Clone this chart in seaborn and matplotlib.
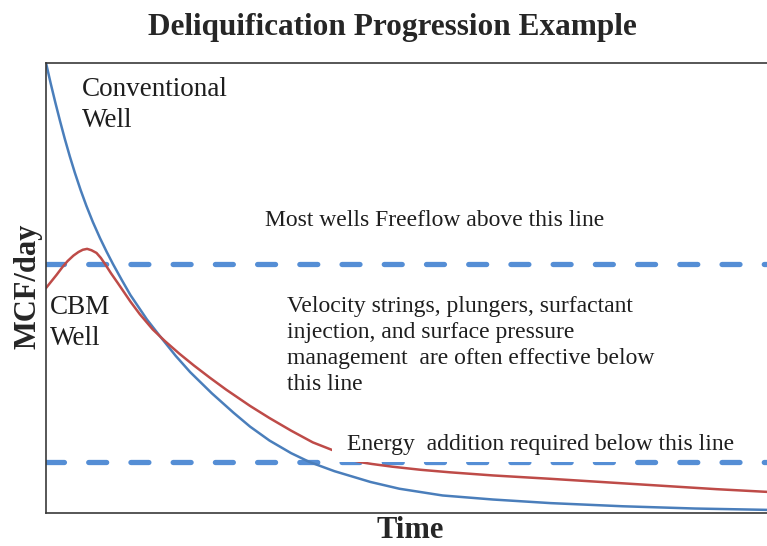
import pandas as pd
import seaborn as sns
import matplotlib.pyplot as plt
from matplotlib.patches import Rectangle

# Conceptual curves (time and rate in 0-100 chart units)
conv_time = [0, 0.65, 1.3, 1.95, 2.6, 3.3, 4, 4.8, 5.6, 6.5, 7.5, 8.4, 9.3, 10.5, 11.7,
             14, 15.8, 18, 20, 23, 26, 28.3, 31, 34, 36.6, 40, 45, 49, 55, 62, 70, 80,
             90, 100]
conv_rate = [100, 95.45, 91.16, 87.07, 83.17, 79.25, 75.61, 71.77, 68.25, 64.65, 61.05,
             58.08, 55.29, 51.81, 48.45, 43.0, 39.3, 34.9, 31.3, 26.6, 22.3, 19.2, 16.1,
             13.3, 11.3, 9.3, 6.9, 5.4, 3.9, 3.0, 2.2, 1.5, 1.0, 0.7]

cbm_time = [0, 0.8, 1.5, 2.3, 3, 3.8, 4.5, 5.1, 5.7, 6.3, 7, 7.6, 8.2, 9, 10, 11.7, 13,
            14.8, 16.5, 18.5, 20.5, 22.7, 25, 28.3, 31, 34, 37, 39.7, 42, 44, 45.2, 48,
            52, 56, 62, 70, 78, 86, 93, 100]
cbm_rate = [50, 51.6, 53, 54.7, 56, 57.2, 58, 58.5, 58.7, 58.4, 57.8, 56.7, 55.3, 53.3, 51,
            47, 44.2, 40.8, 38.2, 35.4, 32.8, 30.1, 27.4, 23.8, 21.1, 18.3, 15.7, 14.0,
            11.9, 11.2, 10.9, 10.3, 9.6, 9.05, 8.35, 7.6, 6.8, 6.0, 5.3, 4.7]

freeflow_level = 55.3
energy_level = 11.3

conv = pd.DataFrame({'Time': conv_time, 'Rate': conv_rate, 'Well': 'Conventional'})
cbm = pd.DataFrame({'Time': cbm_time, 'Rate': cbm_rate, 'Well': 'CBM'})
df = pd.concat([conv, cbm], ignore_index=True)

sns.set_style('white')
plt.rcParams['font.family'] = ['Liberation Serif', 'DejaVu Serif']

fig = plt.figure(figsize=(7.67, 5.46), dpi=100)
ax = fig.add_axes([0.06, 0.0604, 0.94, 0.8242])

sns.lineplot(data=df, x='Time', y='Rate', hue='Well',
             palette={'Conventional': '#4A7EBB', 'CBM': '#BE4B48'},
             linewidth=1.8, legend=False, ax=ax, zorder=2, sort=False)

for lvl in (freeflow_level, energy_level):
    ax.axhline(lvl, color='#558ED5', linewidth=3.8, dashes=(3.4, 4.6),
               dash_capstyle='round', zorder=1)

# white text box partly covering the lower line, as in the original slide
ax.add_patch(Rectangle((39.7, energy_level), 39.6, 9, facecolor='white',
                       edgecolor='none', zorder=3))

ax.set_xlim(0, 100)
ax.set_ylim(0, 100)
ax.set_xticks([])
ax.set_yticks([])
ax.spines['right'].set_visible(False)
for s in ('left', 'top', 'bottom'):
    ax.spines[s].set_color('#3a3a3a')
    ax.spines[s].set_linewidth(1.2)

ax.set_xlabel('Time', fontsize=22, fontweight='bold')
ax.xaxis.set_label_coords(0.505, -0.0556)
ax.xaxis.label.set_va('baseline')
ax.set_ylabel('MCF/day', fontsize=22, fontweight='bold')
ax.yaxis.set_label_coords(-0.005, 0.503)

ax.text(5.0, 85.8, 'Conventional\nWell', fontsize=19.5, va='baseline',
        linespacing=1.31, color='#1e1e1e', zorder=4)
ax.text(0.55, 37.3, 'CBM\nWell', fontsize=19.5, va='baseline',
        linespacing=1.31, color='#1e1e1e', zorder=4)
ax.text(30.4, 63.8, 'Most wells Freeflow above this line', fontsize=17,
        va='baseline', color='#1e1e1e', zorder=4)
ax.text(33.4, 27.3, 'Velocity strings, plungers, surfactant\ninjection, and surface pressure\n'
        'management  are often effective below\nthis line', fontsize=17,
        va='baseline', linespacing=1.32, color='#1e1e1e', zorder=4)
ax.text(41.7, 14.0, 'Energy  addition required below this line', fontsize=17,
        va='baseline', color='#1e1e1e', zorder=4)

fig.text(0.511, 1 - 35 / 546, 'Deliquification Progression Example', fontsize=22.5,
         fontweight='bold', ha='center', va='baseline')

fig.savefig('out.png', dpi=100)
